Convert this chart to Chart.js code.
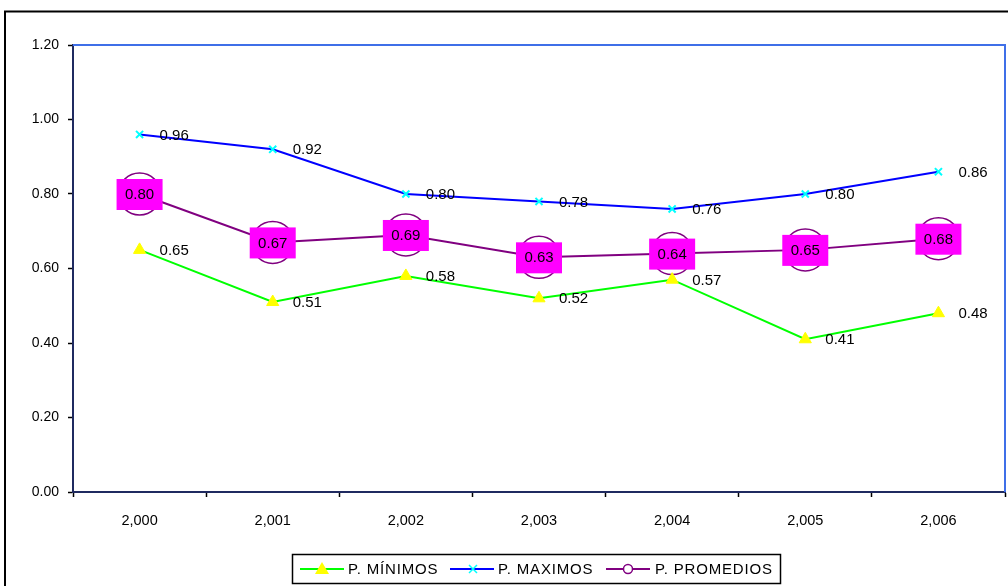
<!DOCTYPE html>
<html><head><meta charset="utf-8">
<script src="https://cdn.jsdelivr.net/npm/chart.js@4/dist/chart.umd.min.js"></script>
<style>html,body{margin:0;padding:0;background:#fff;}canvas{display:block;}</style>
</head><body>
<canvas id="c" width="1008" height="586"></canvas>
<script>
const categories = ['2,000','2,001','2,002','2,003','2,004','2,005','2,006'];
const minimos = [0.65, 0.51, 0.58, 0.52, 0.57, 0.41, 0.48];
const maximos = [0.96, 0.92, 0.80, 0.78, 0.76, 0.80, 0.86];
const promedios = [0.80, 0.67, 0.69, 0.63, 0.64, 0.65, 0.68];
const yTicks = [0, 0.2, 0.4, 0.6, 0.8, 1.0, 1.2];
const seriesNames = ['P. MÍNIMOS', 'P. MAXIMOS', 'P. PROMEDIOS'];

const FONT = '"Liberation Sans", Arial, sans-serif';

const framePlugin = {
  id: 'frame',
  beforeDraw(chart) {
    const ctx = chart.ctx;
    ctx.save();
    ctx.fillStyle = '#fff';
    ctx.fillRect(0, 0, chart.width, chart.height);
    ctx.strokeStyle = '#000';
    ctx.lineWidth = 2;
    ctx.beginPath();
    ctx.moveTo(5, 600);
    ctx.lineTo(5, 11.5);
    ctx.lineTo(1020, 11.5);
    ctx.stroke();
    ctx.restore();
  },
  beforeDatasetsDraw(chart) {
    const ctx = chart.ctx, a = chart.chartArea;
    ctx.save();
    ctx.strokeStyle = '#3F6FE8';
    ctx.lineWidth = 2;
    ctx.beginPath();
    ctx.moveTo(a.left, a.top);
    ctx.lineTo(a.right, a.top);
    ctx.lineTo(a.right, a.bottom);
    ctx.stroke();
    ctx.restore();
  },
  afterDatasetsDraw(chart) {
    const ctx = chart.ctx;
    ctx.save();
    ctx.font = '15px ' + FONT;
    ctx.textBaseline = 'middle';
    [0, 1].forEach(di => {
      const meta = chart.getDatasetMeta(di);
      const data = chart.data.datasets[di].data;
      meta.data.forEach((pt, i) => {
        ctx.fillStyle = '#000';
        ctx.textAlign = 'left';
        ctx.fillText(data[i].toFixed(2), pt.x + 20, pt.y + 1);
      });
    });
    const meta = chart.getDatasetMeta(2);
    const data = chart.data.datasets[2].data;
    meta.data.forEach((pt, i) => {
      ctx.fillStyle = '#FF00FF';
      ctx.fillRect(pt.x - 23, pt.y - 15, 46, 31);
      ctx.fillStyle = '#000';
      ctx.textAlign = 'center';
      ctx.fillText(data[i].toFixed(2), pt.x, pt.y + 1);
    });
    ctx.restore();
  },
  afterDraw(chart) {
    const ctx = chart.ctx;
    ctx.save();
    ctx.strokeStyle = '#000';
    ctx.lineWidth = 1.5;
    ctx.strokeRect(292.5, 554.5, 488, 29);
    const cy = 569;
    ctx.font = '15px ' + FONT;
    ctx.textBaseline = 'middle';
    ctx.textAlign = 'left';
    if ('letterSpacing' in ctx) ctx.letterSpacing = '0.8px';
    ctx.lineWidth = 2;
    ctx.strokeStyle = '#00FF00';
    ctx.beginPath(); ctx.moveTo(300, cy); ctx.lineTo(344, cy); ctx.stroke();
    ctx.fillStyle = '#FFFF00';
    ctx.beginPath(); ctx.moveTo(322, cy - 7); ctx.lineTo(329, cy + 5); ctx.lineTo(315, cy + 5); ctx.closePath(); ctx.fill();
    ctx.fillStyle = '#000';
    ctx.fillText(seriesNames[0], 348, cy + 1);
    ctx.strokeStyle = '#0000FF';
    ctx.beginPath(); ctx.moveTo(450, cy); ctx.lineTo(494, cy); ctx.stroke();
    ctx.strokeStyle = '#00FFFF';
    ctx.lineWidth = 1.5;
    ctx.beginPath(); ctx.moveTo(469, cy - 4); ctx.lineTo(477, cy + 4); ctx.moveTo(477, cy - 4); ctx.lineTo(469, cy + 4); ctx.stroke();
    ctx.fillStyle = '#000';
    ctx.fillText(seriesNames[1], 498, cy + 1);
    ctx.lineWidth = 2;
    ctx.strokeStyle = '#800080';
    ctx.beginPath(); ctx.moveTo(606, cy); ctx.lineTo(650, cy); ctx.stroke();
    ctx.fillStyle = '#fff';
    ctx.lineWidth = 1.5;
    ctx.beginPath(); ctx.arc(628, cy, 4.5, 0, Math.PI * 2); ctx.fill(); ctx.stroke();
    ctx.fillStyle = '#000';
    ctx.fillText(seriesNames[2], 655, cy + 1);
    ctx.restore();
  }
};

new Chart(document.getElementById('c'), {
  type: 'line',
  data: {
    labels: categories,
    datasets: [
      {
        label: seriesNames[0], data: minimos,
        borderColor: '#00FF00', borderWidth: 2,
        pointStyle: 'triangle', pointRadius: 7,
        pointBackgroundColor: '#FFFF00', pointBorderColor: '#FFFF00', pointBorderWidth: 1,
        tension: 0, clip: false
      },
      {
        label: seriesNames[1], data: maximos,
        borderColor: '#0000FF', borderWidth: 2,
        pointStyle: 'crossRot', pointRadius: 5,
        pointBorderColor: '#00FFFF', pointBorderWidth: 2,
        tension: 0, clip: false
      },
      {
        label: seriesNames[2], data: promedios,
        borderColor: '#800080', borderWidth: 2,
        pointStyle: 'circle', pointRadius: 21,
        pointBackgroundColor: 'rgba(0,0,0,0)', pointBorderColor: '#800080', pointBorderWidth: 1.5,
        tension: 0, clip: false
      }
    ]
  },
  options: {
    responsive: false,
    animation: false,
    devicePixelRatio: 1,
    layout: { autoPadding: false, padding: { top: 45, right: 3, left: 0, bottom: 0 } },
    plugins: { legend: { display: false }, tooltip: { enabled: false }, title: { display: false } },
    scales: {
      x: {
        type: 'category',
        offset: true,
        afterFit(s) { s.height = 94; s.paddingLeft = 0; s.paddingRight = 0; },
        grid: { display: true, drawOnChartArea: false, drawTicks: true, tickLength: 5, color: '#000', offset: true, tickWidth: 1.5 },
        border: { display: true, color: '#1F2A60', width: 2 },
        ticks: { color: '#000', font: { family: FONT, size: 14.5 }, padding: 15, maxRotation: 0, autoSkip: false }
      },
      y: {
        min: 0, max: 1.2,
        afterFit(s) { s.width = 73; s.paddingTop = 0; s.paddingBottom = 0; },
        afterBuildTicks(s) { s.ticks = yTicks.map(v => ({ value: v })); },
        grid: { display: true, drawOnChartArea: false, drawTicks: true, tickLength: 5, color: '#000', tickWidth: 1.5 },
        border: { display: true, color: '#1F2A60', width: 2 },
        ticks: { color: '#000', font: { family: FONT, size: 14 }, padding: 9, callback: v => Number(v).toFixed(2) }
      }
    }
  },
  plugins: [framePlugin]
});
</script>
</body></html>
